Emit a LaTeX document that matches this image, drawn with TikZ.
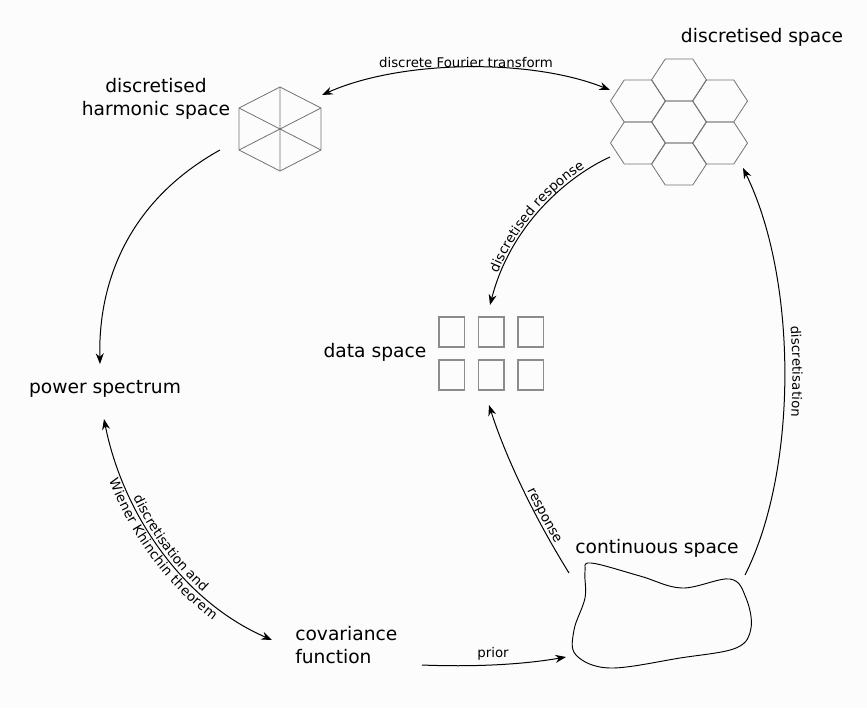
\documentclass[tikz,border=0pt]{standalone}
\usepackage{fontspec}
\setmainfont{DejaVu Sans}
\usetikzlibrary{arrows.meta,decorations.text}
\newcommand{\lblfont}{\fontsize{10pt}{11pt}\selectfont}
\begin{document}
\begin{tikzpicture}[x=0.75pt,y=-0.75pt,
  conn/.style={line width=0.75pt,-{Stealth[length=8pt,width=6pt]}},
  dconn/.style={line width=0.75pt,{Stealth[length=8pt,width=6pt]}-{Stealth[length=8pt,width=6pt]}},
  big/.style={font=\fontsize{14pt}{17pt}\selectfont,inner sep=0pt},
  small/.style={font=\lblfont,inner sep=0pt},
  hexline/.style={draw=black!55,line width=0.6pt},
  sq/.style={draw=black!45,line width=0.9pt},
  pathtext/.style args={#1/#2/#3}{postaction={decorate,decoration={text along path,text={|\lblfont|#1},raise=#2,text align={#3}}}}]
\fill[white!99!black] (0,0) rectangle (867,708);
\useasboundingbox (0,0) rectangle (867,708);

% texts
\node[big] (tds) at (762,37) {discretised space};
\node[big,align=center] (ths) at (156,99) {discretised\\harmonic space};
\node[big] (tps) at (105,389) {power spectrum};
\node[big] (tdata) at (375,352) {data space};
\node[big,align=left,anchor=west] (tcov) at (295,645) {covariance\\function};
\node[big] (tcs) at (657,548) {continuous space};

% harmonic hexagon
\draw[hexline] (280,87) -- (321,108) -- (321,150) -- (280,171) -- (239,150) -- (239,108) -- cycle;
\draw[hexline] (280,87) -- (280,171) (239,108) -- (321,150) (239,150) -- (321,108);

% hex grid
\foreach \cx/\cy in {679/80,679/122,679/164,638/101,638/143,720/101,720/143}
  \draw[hexline] (\cx-27.5,\cy) -- (\cx-13.75,\cy-21) -- (\cx+13.75,\cy-21) -- (\cx+27.5,\cy) -- (\cx+13.75,\cy+21) -- (\cx-13.75,\cy+21) -- cycle;

% data squares
\foreach \sx in {439,478.5,518}
  \foreach \sy in {317,360}
    \draw[sq] (\sx,\sy) rectangle (\sx+25.5,\sy+30);

% continuous blob
\draw[line width=0.7pt] plot[smooth cycle,tension=0.6] coordinates
  {(591,563) (640,576) (682,588) (730,579) (746,598) (751,628) (736,648) (680,658) (610,668) (576,655) (574,630) (585,598) (585,572)};

% connector endpoints
\coordinate (fL) at (322,95);
\coordinate (fR) at (610,90);
\coordinate (hS) at (220,150);
\coordinate (pT) at (100,364);
\coordinate (pB) at (104,419);
\coordinate (cT) at (272,640);
\coordinate (cR) at (422,665);
\coordinate (bL) at (566,657);
\coordinate (bT) at (569,573);
\coordinate (dB) at (489,405);
\coordinate (bR) at (745,575);
\coordinate (gB) at (743,168);
\coordinate (gL) at (610,157);
\coordinate (dT) at (490,305);

% connectors
\draw[dconn] (fL) .. controls (400,60) and (530,58) .. (fR);
\node[small] (lft) at (466,63) {discrete Fourier transform};

\draw[conn] (hS) .. controls (130,200) and (98,280) .. (pT);

\draw[dconn] (pB) .. controls (122,510) and (180,600) .. (cT);
\path[pathtext={discretisation and/2pt/center}] (pB) .. controls (122,510) and (180,600) .. (cT);
\path[pathtext={Wiener Khinchin theorem/-9.5pt/center}] (pB) .. controls (122,510) and (180,600) .. (cT);

\draw[conn] (cR) .. controls (470,667) and (520,665) .. (bL);
\node[small] (lpr) at (493,654) {prior};

\draw[conn] (bT) .. controls (530,510) and (504,452) .. (dB);
\path[pathtext={response/2.5pt/{right, right indent=24pt}}] (dB) .. controls (504,452) and (530,510) .. (bT);

\draw[conn] (bR) .. controls (798,470) and (798,280) .. (gB);
\path[pathtext={discretisation/6pt/center}] (gB) .. controls (798,280) and (798,470) .. (bR);

\draw[conn] (gL) .. controls (570,175) and (511,223) .. (dT);
\path[pathtext={discretised response/2pt/{left, left indent=24pt}}] (dT) .. controls (511,223) and (570,175) .. (gL);
\end{tikzpicture}
\end{document}
